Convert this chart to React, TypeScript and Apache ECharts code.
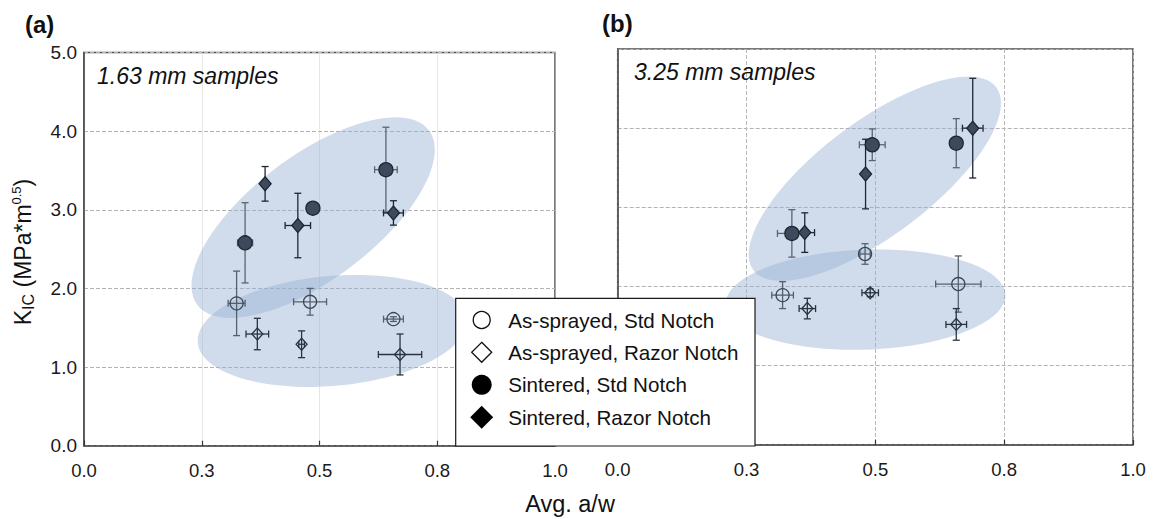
import React, { useEffect, useRef } from "react";
import * as echarts from "echarts";

// ---------- tick labels ----------
const xTickValues = [0, 0.25, 0.5, 0.75, 1.0];
const xTickLabels = ["0.0", "0.3", "0.5", "0.8", "1.0"];
const yTickLabels = ["0.0", "1.0", "2.0", "3.0", "4.0", "5.0"];

// ---------- series ----------
const seriesNames = [
  "As-sprayed, Std Notch",
  "As-sprayed, Razor Notch",
  "Sintered, Std Notch",
  "Sintered, Razor Notch",
];

// Panel (a) 1.63 mm samples: [avg a/w, KIC, a/w error, KIC error]
const a_sprayStd = [[0.324, 1.81, 0.018, 0.41], [0.480, 1.83, 0.035, 0.17], [0.657, 1.61, 0.021, 0.03]];
const a_sprayRazor = [[0.368, 1.42, 0.024, 0.2], [0.462, 1.29, 0.006, 0.17], [0.671, 1.16, 0.046, 0.26]];
const a_sintStd = [[0.342, 2.58, 0.016, 0.51], [0.486, 3.02, 0.012, 0.07], [0.641, 3.51, 0.024, 0.54]];
const a_sintRazor = [[0.3845, 3.33, 0.0, 0.22], [0.454, 2.8, 0.027, 0.41], [0.657, 2.96, 0.021, 0.155]];

// Panel (b) 3.25 mm samples
const b_sprayStd = [[0.32, 1.89, 0.021, 0.17], [0.48, 2.41, 0.01, 0.13], [0.661, 2.03, 0.044, 0.355]];
const b_sprayRazor = [[0.368, 1.72, 0.016, 0.13], [0.49, 1.92, 0.016, 0.05], [0.657, 1.52, 0.02, 0.2]];
const b_sintStd = [[0.338, 2.67, 0.028, 0.3], [0.494, 3.79, 0.025, 0.2], [0.657, 3.81, 0.0, 0.31]];
const b_sintRazor = [[0.363, 2.68, 0.019, 0.25], [0.481, 3.42, 0.0, 0.44], [0.689, 4.0, 0.02, 0.63]];

const panelLabels = ["(a)", "(b)"];
const sampleLabels = ["1.63 mm samples", "3.25 mm samples"];
const xTitle = "Avg. a/w";

// grouping ellipse centres (data units)
const ellipseCentersA = [[0.4865, 2.9], [0.527, 1.46]];
const ellipseCentersB = [[0.499, 3.36], [0.481, 1.833]];

// ---------- styles (pixel sizes) ----------
const ellipseShapesA = [[145, 62, 37], [135, 55, 5]];
const ellipseShapesB = [[152, 57, 37], [140, 50, 2]];
const ellipseFill = "rgba(150,177,212,0.45)";
const FONT = "'Liberation Sans', Arial, sans-serif";

const markerStyles = [
  { symbol: "circle", size: 13, color: "rgba(0,0,0,0)", border: "#3b4658", bar: "#56606d" },
  { symbol: "diamond", size: [11, 12], color: "rgba(0,0,0,0)", border: "#2a3340", bar: "#2a3340" },
  { symbol: "circle", size: 14, color: "#3d4a5d", border: "#1e2530", bar: "#5a6472" },
  { symbol: "diamond", size: [12, 14], color: "#3d4a5d", border: "#1e2530", bar: "#1f2632" },
];

function ellipseSeries(gridIdx: number, centers: number[][], shapes: number[][]) {
  return {
    type: "custom",
    xAxisIndex: gridIdx,
    yAxisIndex: gridIdx,
    z: 1,
    silent: true,
    data: centers,
    encode: { x: 0, y: 1 },
    renderItem: (params: any, api: any) => {
      const c = api.coord([api.value(0), api.value(1)]);
      const [a, b, rotDeg] = shapes[params.dataIndex];
      const th = (rotDeg * Math.PI) / 180;
      const pts: number[][] = [];
      for (let i = 0; i < 90; i++) {
        const t = (i / 90) * Math.PI * 2;
        const ca = a * Math.cos(t);
        const sb = b * Math.sin(t);
        pts.push([c[0] + ca * Math.cos(th) + sb * Math.sin(th), c[1] - ca * Math.sin(th) + sb * Math.cos(th)]);
      }
      return { type: "polygon", shape: { points: pts }, style: { fill: ellipseFill } };
    },
  };
}

function errorSeries(gridIdx: number, rows: number[][], color: string) {
  return {
    type: "custom",
    xAxisIndex: gridIdx,
    yAxisIndex: gridIdx,
    z: 3,
    silent: true,
    data: rows,
    encode: { x: 0, y: 1 },
    renderItem: (_p: any, api: any) => {
      const x = api.value(0), y = api.value(1), xe = api.value(2), ye = api.value(3);
      const style = { stroke: color, lineWidth: 1.3 };
      const cap = 3.5;
      const ch: any[] = [];
      if (ye > 0) {
        const t = api.coord([x, y + ye]);
        const b = api.coord([x, y - ye]);
        ch.push({ type: "line", shape: { x1: t[0], y1: t[1], x2: b[0], y2: b[1] }, style });
        ch.push({ type: "line", shape: { x1: t[0] - cap, y1: t[1], x2: t[0] + cap, y2: t[1] }, style });
        ch.push({ type: "line", shape: { x1: b[0] - cap, y1: b[1], x2: b[0] + cap, y2: b[1] }, style });
      }
      if (xe > 0) {
        const l = api.coord([x - xe, y]);
        const r = api.coord([x + xe, y]);
        ch.push({ type: "line", shape: { x1: l[0], y1: l[1], x2: r[0], y2: r[1] }, style });
        ch.push({ type: "line", shape: { x1: l[0], y1: l[1] - cap, x2: l[0], y2: l[1] + cap }, style });
        ch.push({ type: "line", shape: { x1: r[0], y1: r[1] - cap, x2: r[0], y2: r[1] + cap }, style });
      }
      return { type: "group", children: ch };
    },
  };
}

function scatterSeries(gridIdx: number, rows: number[][], k: number) {
  const s = markerStyles[k];
  return {
    type: "scatter",
    name: seriesNames[k],
    xAxisIndex: gridIdx,
    yAxisIndex: gridIdx,
    z: 4,
    symbol: s.symbol,
    symbolSize: s.size,
    data: rows.map((r) => [r[0], r[1]]),
    itemStyle: { color: s.color, borderColor: s.border, borderWidth: 1.3, opacity: 1 },
  };
}

function xAxisCfg(gridIdx: number, dotted: boolean) {
  return {
    type: "value",
    gridIndex: gridIdx,
    min: 0,
    max: 1,
    interval: 0.25,
    axisLine: { show: true, lineStyle: { color: "#4d4d4d", width: 1.5 } },
    axisTick: { show: true, inside: true, length: 5, lineStyle: { color: "#333", width: 1.2 } },
    axisLabel: {
      show: true,
      showMinLabel: true,
      showMaxLabel: true,
      margin: 15,
      fontSize: 18.5,
      color: "#1a1a1a",
      fontFamily: FONT,
      formatter: (v: number) => {
        const i = xTickValues.findIndex((t) => Math.abs(t - v) < 1e-6);
        return i >= 0 ? xTickLabels[i] : "";
      },
    },
    splitLine: {
      show: true,
      lineStyle: dotted ? { color: "#cfcfcf", type: "dotted", width: 1 } : { color: "#b8b8b8", type: "dashed", width: 1 },
    },
  };
}

function yAxisCfg(gridIdx: number, showLabels: boolean) {
  return {
    type: "value",
    gridIndex: gridIdx,
    min: 0,
    max: 5,
    interval: 1,
    axisLine: { show: true, lineStyle: { color: "#4d4d4d", width: 1.5 } },
    axisTick: { show: false },
    axisLabel: {
      show: showLabels,
      margin: 7,
      fontSize: 19,
      color: "#1a1a1a",
      fontFamily: FONT,
      formatter: (v: number) => yTickLabels[Math.round(v)] ?? "",
    },
    splitLine: { show: true, lineStyle: { color: "#b3b3b3", type: "dashed", width: 1 } },
  };
}

function legendGraphic() {
  const left = 455.7, top = 298.3, w = 299.3, h = 147.7;
  const rows = [320, 352.3, 384.8, 417.3];
  const sx = 481.7;
  const els: any[] = [
    { type: "rect", shape: { x: left, y: top, width: w, height: h }, style: { fill: "#fff", stroke: "#1a1a1a", lineWidth: 1.2 }, z: 100 },
    { type: "circle", shape: { cx: sx, cy: rows[0], r: 8.5 }, style: { fill: "#fff", stroke: "#111", lineWidth: 1.3 }, z: 101 },
    { type: "polygon", shape: { points: [[sx, rows[1] - 10], [sx + 10, rows[1]], [sx, rows[1] + 10], [sx - 10, rows[1]]] }, style: { fill: "#fff", stroke: "#111", lineWidth: 1.3 }, z: 101 },
    { type: "circle", shape: { cx: sx, cy: rows[2], r: 10 }, style: { fill: "#000" }, z: 101 },
    { type: "polygon", shape: { points: [[sx, rows[3] - 11.5], [sx + 11.5, rows[3]], [sx, rows[3] + 11.5], [sx - 11.5, rows[3]]] }, style: { fill: "#000" }, z: 101 },
  ];
  seriesNames.forEach((n, i) => {
    els.push({
      type: "text",
      x: 508.3,
      y: rows[i],
      z: 101,
      style: { text: n, fontSize: 20.6, fontFamily: FONT, fill: "#111", textAlign: "left", textVerticalAlign: "middle" },
    });
  });
  return els;
}

export default function App() {
  const ref = useRef<HTMLDivElement>(null);
  useEffect(() => {
    if (!ref.current) return;
    const chart = echarts.init(ref.current, undefined, { renderer: "svg" });
    const series: any[] = [
      ellipseSeries(0, ellipseCentersA, ellipseShapesA),
      ellipseSeries(1, ellipseCentersB, ellipseShapesB),
    ];
    const groupsA = [a_sprayStd, a_sprayRazor, a_sintStd, a_sintRazor];
    const groupsB = [b_sprayStd, b_sprayRazor, b_sintStd, b_sintRazor];
    groupsA.forEach((g, k) => series.push(errorSeries(0, g, markerStyles[k].bar)));
    groupsB.forEach((g, k) => series.push(errorSeries(1, g, markerStyles[k].bar)));
    groupsA.forEach((g, k) => series.push(scatterSeries(0, g, k)));
    groupsB.forEach((g, k) => series.push(scatterSeries(1, g, k)));

    const option: any = {
      animation: false,
      backgroundColor: "#ffffff",
      grid: [
        { left: 84, top: 52.5, width: 471, height: 393.2, show: true, borderColor: "#4d4d4d", borderWidth: 1.5, backgroundColor: "transparent" },
        { left: 617.7, top: 49, width: 515.3, height: 395.7, show: true, borderColor: "#4d4d4d", borderWidth: 1.5, backgroundColor: "transparent" },
      ],
      xAxis: [xAxisCfg(0, true), xAxisCfg(1, false)],
      yAxis: [yAxisCfg(0, true), yAxisCfg(1, false)],
      series,
      graphic: [
        { type: "text", x: 25, y: 24, style: { text: panelLabels[0], fontSize: 24, fontWeight: "bold", fontFamily: FONT, fill: "#111", textVerticalAlign: "middle" } },
        { type: "text", x: 602, y: 23, style: { text: panelLabels[1], fontSize: 24, fontWeight: "bold", fontFamily: FONT, fill: "#111", textVerticalAlign: "middle" } },
        { type: "text", x: 97, y: 76, z: 50, style: { text: sampleLabels[0], fontSize: 23, fontStyle: "italic", fontFamily: FONT, fill: "#111", textVerticalAlign: "middle" } },
        { type: "text", x: 634, y: 72, z: 50, style: { text: sampleLabels[1], fontSize: 23, fontStyle: "italic", fontFamily: FONT, fill: "#111", textVerticalAlign: "middle" } },
        { type: "text", x: 570, y: 504, style: { text: xTitle, fontSize: 23.5, fontFamily: FONT, fill: "#111", textAlign: "center", textVerticalAlign: "middle" } },
        {
          type: "text",
          x: 23,
          y: 252,
          rotation: Math.PI / 2,
          style: {
            text: "{m|K}{s|IC}{m| (MPa*m}{p|0.5}{m|)}",
            textAlign: "center",
            textVerticalAlign: "middle",
            fill: "#111",
            rich: {
              m: { fontSize: 23, fontFamily: FONT, lineHeight: 26, fill: "#111" },
              s: { fontSize: 16, fontFamily: FONT, lineHeight: 19, verticalAlign: "bottom", fill: "#111" },
              p: { fontSize: 13, fontFamily: FONT, lineHeight: 13, verticalAlign: "top", fill: "#111" },
            },
          },
        },
        ...legendGraphic(),
      ],
    };
    chart.setOption(option);
    return () => chart.dispose();
  }, []);
  return <div ref={ref} style={{ position: "absolute", left: 0, top: 0, width: 1154, height: 519 }} />;
}
